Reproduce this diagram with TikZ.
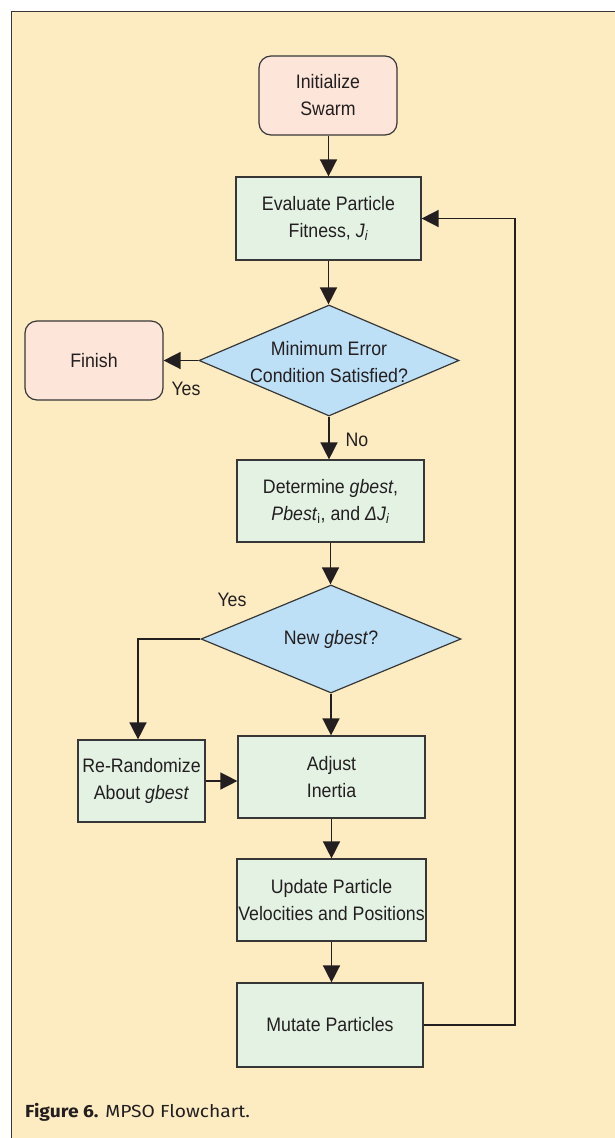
\documentclass[tikz,border=0pt]{standalone}
\usepackage{fontspec}
\setmainfont[FakeStretch=0.91]{Liberation Sans}
\newfontfamily\capfont[FakeStretch=1.1]{Fira Sans}
\usetikzlibrary{arrows.meta,shapes.geometric}
\definecolor{cream}{RGB}{253,236,194}
\definecolor{pinkfill}{RGB}{253,229,217}
\definecolor{greenfill}{RGB}{228,242,228}
\definecolor{bluefill}{RGB}{190,224,246}
\definecolor{edge}{RGB}{55,55,55}
\definecolor{ink}{RGB}{35,31,32}
\tikzset{
  base/.style={draw=edge, line width=1.2pt, align=center, inner sep=0pt,
    font=\fontsize{19.5}{27}\selectfont, text=ink},
  term/.style={base, fill=pinkfill, rounded corners=12pt},
  proc/.style={base, fill=greenfill},
  dia/.style={draw=edge, line width=1.2pt, fill=bluefill, shape=diamond, inner sep=0pt},
  txt/.style={align=center, inner sep=0pt, font=\fontsize{19.5}{27}\selectfont, text=ink},
  arr/.style={draw=ink, line width=1.5pt, -{Triangle[length=17pt,width=17pt]}},
}
\begin{document}
\begin{tikzpicture}[x=1pt,y=-1pt]
\useasboundingbox (0,0) rectangle (615,1138);
\fill[white] (0,0) rectangle (615,1138);
\draw[draw=edge, line width=1.2pt, fill=cream] (11.5,11.5) rectangle (630,1150);

\node[term, minimum width=138pt, minimum height=79pt] (init) at (328,95.5) {Initialize\\Swarm};
\node[proc, minimum width=185pt, minimum height=83pt] (eval) at (328.5,218.5) {Evaluate Particle\\Fitness, \textit{J}\textsubscript{\textit{i}}};
\node[dia, minimum width=260pt, minimum height=111pt] (d1) at (329,360.5) {};
\node[txt] (d1t) at (329,362) {Minimum Error\\Condition Satisfied?};
\node[term, minimum width=138pt, minimum height=79pt] (fin) at (94,360.5) {Finish};
\node[proc, minimum width=187pt, minimum height=82pt] (det) at (330.5,501) {Determine \textit{gbest},\\\textit{Pbest}\textsubscript{i}, and \textit{ΔJ}\textsubscript{\textit{i}}};
\node[dia, minimum width=260pt, minimum height=108pt] (d2) at (331,639) {};
\node[txt] (d2t) at (331,639) {New \textit{gbest}?};
\node[proc, minimum width=127pt, minimum height=82pt] (rr) at (141.5,781) {Re-Randomize\\About \textit{gbest}};
\node[proc, minimum width=187pt, minimum height=82pt] (adj) at (331.5,777) {Adjust\\Inertia};
\node[proc, minimum width=189pt, minimum height=82pt] (upd) at (331.5,900) {Update Particle\\Velocities and Positions};
\node[proc, minimum width=186pt, minimum height=84pt] (mut) at (330,1025) {Mutate Particles};

\node[txt] (yes1) at (186,389) {Yes};
\node[txt] (no1) at (357,440) {No};
\node[txt] (yes2) at (232,600) {Yes};

\coordinate (fb) at (515,600);
\coordinate (rrx) at (138,700);

\draw[arr] (init.south -| eval) -- (eval.north);
\draw[arr] (eval.south) -- (eval.south |- d1.north);
\draw[arr] (d1.west) -- (fin.east);
\draw[arr] (d1.south) -- (d1.south |- det.north);
\draw[arr] (det.south) -- (det.south |- d2.north);
\draw[arr] (d2.west) -| (rrx) -- (rrx |- rr.north);
\draw[arr] (d2.south) -- (d2.south |- adj.north);
\draw[arr] (rr.east) -- (rr.east -| adj.west);
\draw[arr] (adj.south) -- (adj.south |- upd.north);
\draw[arr] (upd.south) -- (upd.south |- mut.north);
\draw[arr] (mut.east) -| (fb) |- (eval.east);

\node[anchor=base west, inner sep=0pt, font=\capfont\fontsize{17.5}{22}\selectfont, text=ink] (cap) at (25,1117) {\textbf{Figure 6.} MPSO Flowchart.};
\end{tikzpicture}
\end{document}
